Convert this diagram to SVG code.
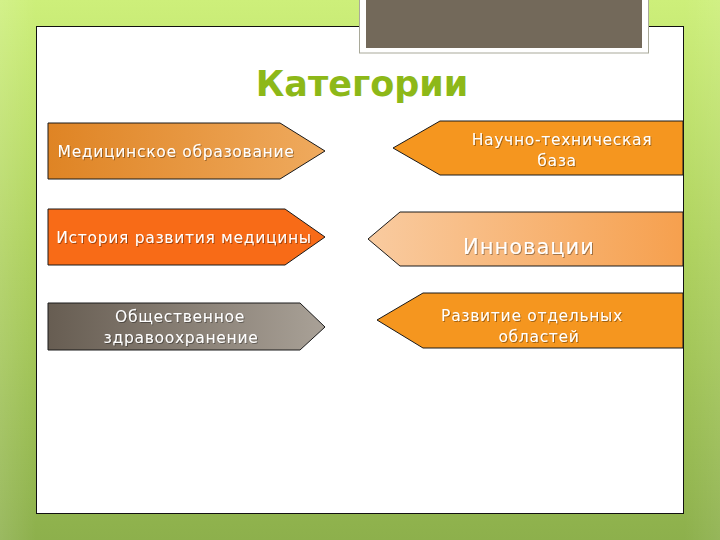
<svg xmlns="http://www.w3.org/2000/svg" width="720" height="540" viewBox="0 0 720 540">
<defs>
<linearGradient id="bg" x1="0" y1="0" x2="0" y2="1">
<stop offset="0" stop-color="#CDEF7A"/>
<stop offset="0.45" stop-color="#AFD25E"/>
<stop offset="1" stop-color="#8DB04C"/>
</linearGradient>
<linearGradient id="bgside" x1="0" y1="0" x2="1" y2="0">
<stop offset="0" stop-color="#FFFFFF" stop-opacity="0.12"/>
<stop offset="0.05" stop-color="#FFFFFF" stop-opacity="0"/>
<stop offset="0.95" stop-color="#FFFFFF" stop-opacity="0"/>
<stop offset="1" stop-color="#FFFFFF" stop-opacity="0.08"/>
</linearGradient>
<linearGradient id="g1" x1="0" y1="0" x2="1" y2="0">
<stop offset="0" stop-color="#DF8424"/>
<stop offset="1" stop-color="#EFAA5E"/>
</linearGradient>
<linearGradient id="g3" x1="0" y1="0" x2="1" y2="0">
<stop offset="0" stop-color="#675D52"/>
<stop offset="1" stop-color="#A9A197"/>
</linearGradient>
<linearGradient id="g5" x1="0" y1="0" x2="1" y2="0">
<stop offset="0" stop-color="#F9CBA0"/>
<stop offset="1" stop-color="#F6A04E"/>
</linearGradient>
<filter id="ts" x="-5%" y="-20%" width="110%" height="140%">
<feDropShadow dx="1" dy="1" stdDeviation="0.6" flood-color="#000" flood-opacity="0.35"/>
</filter>
</defs>
<style>
.arrow{stroke:#1a1a1a;stroke-width:1}
.lbl{font-family:"DejaVu Sans",Verdana,sans-serif;fill:#FFFFFF;text-anchor:middle;filter:url(#ts);font-size:15.5px;letter-spacing:0.7px}
.title{font-family:"DejaVu Sans",Verdana,sans-serif;font-weight:bold;fill:#8DB818;text-anchor:middle}
</style>
<rect x="0" y="0" width="720" height="540" fill="url(#bg)"/>
<rect x="0" y="0" width="720" height="540" fill="url(#bgside)"/>
<rect x="36.5" y="26.5" width="647" height="487" fill="#FFFFFF" stroke="#111" stroke-width="1"/>
<g id="header-box">
<rect x="359.5" y="-2" width="289" height="55" fill="#FFFFFF" stroke="#A9A99A" stroke-width="1"/>
<rect x="366" y="-2" width="276" height="50" fill="#73695A"/>
</g>
<text class="title" x="362" y="96" font-size="35">Категории</text>
<g id="node-med-edu">
<polygon class="arrow" points="48,123 280,123 325,151 280,179 48,179" fill="url(#g1)"/>
<text class="lbl" x="176" y="157">Медицинское образование</text>
</g>
<g id="node-history">
<polygon class="arrow" points="48,209 285,209 325,237 285,265 48,265" fill="#F86B17"/>
<text class="lbl" x="184" y="243">История развития медицины</text>
</g>
<g id="node-public-health">
<polygon class="arrow" points="48,303 300,303 325,327 300,350 48,350" fill="url(#g3)"/>
<text class="lbl" x="180" y="322">Общественное</text>
<text class="lbl" x="181" y="343">здравоохранение</text>
</g>
<g id="node-sci-base">
<polygon class="arrow" points="683,121 440,121 393,148 440,175 683,175" fill="#F5961F"/>
<text class="lbl" x="562" y="145">Научно-техническая</text>
<text class="lbl" x="557" y="166">база</text>
</g>
<g id="node-innovations">
<polygon class="arrow" points="683,212 400,212 368,239 400,266 683,266" fill="url(#g5)"/>
<text class="lbl" x="529" y="254" style="font-size:21px;letter-spacing:1px">Инновации</text>
</g>
<g id="node-fields">
<polygon class="arrow" points="683,293 423,293 377,320 423,348 683,348" fill="#F5961F"/>
<text class="lbl" x="532" y="321">Развитие отдельных</text>
<text class="lbl" x="539" y="342">областей</text>
</g>
<g id="connectors"></g>
</svg>
